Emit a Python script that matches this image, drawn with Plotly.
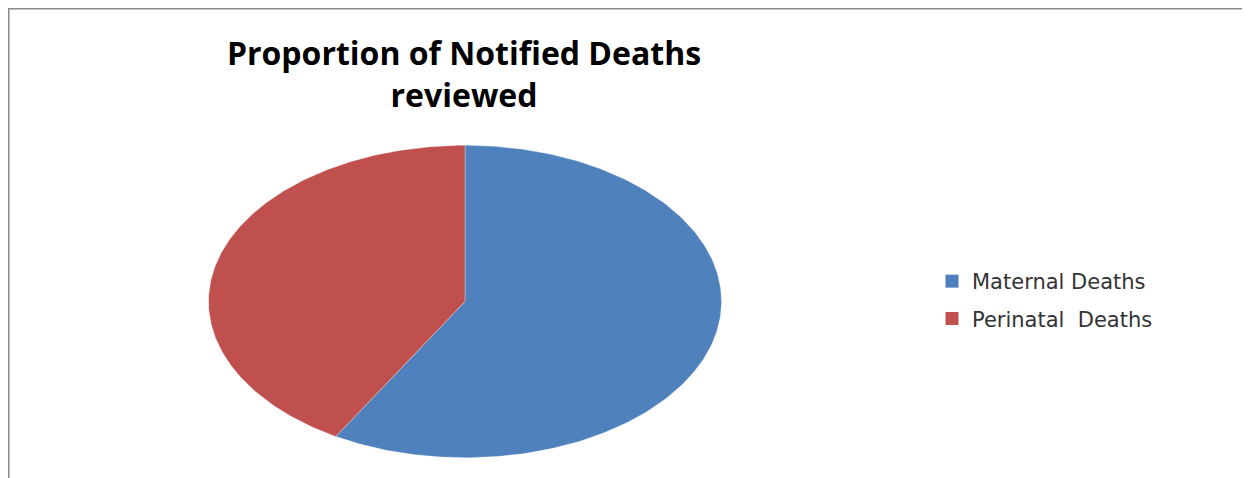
import numpy as np
import plotly.graph_objects as go

# ---- data ----
categories = ["Maternal Deaths", "Perinatal\u00a0 Deaths"]
values = [58.4, 41.6]
colors = ["#4F81BD", "#C0504D"]
title_text = "Proportion of Notified Deaths<br>reviewed"

W, H = 1250, 478
OFF = 8  # page body offset
fig = go.Figure()

# pie wedges drawn on x/y axes (the reference pie is an ellipse)
total = float(sum(values))
start = 0.0
for name, v, c in zip(categories, values, colors):
    frac = v / total
    th = np.linspace(start, start + frac, 200) * 2 * np.pi
    xs = np.concatenate([[0], np.sin(th), [0]])
    ys = np.concatenate([[0], np.cos(th), [0]])
    fig.add_trace(go.Scatter(x=xs, y=ys, mode="lines", fill="toself",
                             fillcolor=c, line=dict(width=0.6, color="rgba(255,255,255,0.5)"),
                             hoverinfo="skip", showlegend=False))
    start += frac

# legend entries
for i, (name, c) in enumerate(zip(categories, colors)):
    fig.add_trace(go.Scatter(x=[None], y=[None], mode="markers", name=name,
                             legendgroup=f"g{i}",
                             marker=dict(symbol="square", size=13, color=c)))

x0, x1 = (208 - OFF) / W, (722 - OFF) / W
y0, y1 = 1 - (458 - OFF) / H, 1 - (145 - OFF) / H

fig.update_layout(
    width=W, height=H,
    margin=dict(l=0, r=0, t=0, b=0),
    paper_bgcolor="white", plot_bgcolor="white",
    xaxis=dict(domain=[x0, x1], range=[-1.002, 1.002], visible=False, fixedrange=True),
    yaxis=dict(domain=[y0, y1], range=[-1.002, 1.002], visible=False, fixedrange=True),
    title=dict(text=title_text, x=(464 - OFF) / W, xanchor="center", y=1 - 57 / H, yanchor="top",
               font=dict(family="Open Sans", size=32, color="#000000", weight="bold")),
    showlegend=True,
    legend=dict(x=(959 - 27 - OFF) / W, xanchor="left", y=1 - (261 - OFF) / H, yanchor="top",
                traceorder="grouped", tracegroupgap=7,
                font=dict(family="DejaVu Sans", size=21, color="#333333"),
                bgcolor="rgba(0,0,0,0)", itemwidth=30),
    shapes=[
        dict(type="line", xref="paper", yref="paper", x0=0, x1=1.0, y0=1 - 0.75 / H, y1=1 - 0.75 / H,
             line=dict(color="#8a8a8a", width=1.5)),
        dict(type="line", xref="paper", yref="paper", x0=0.75 / W, x1=0.75 / W, y0=0, y1=1,
             line=dict(color="#8a8a8a", width=1.5)),
    ],
)

fig.write_html("out.html")
